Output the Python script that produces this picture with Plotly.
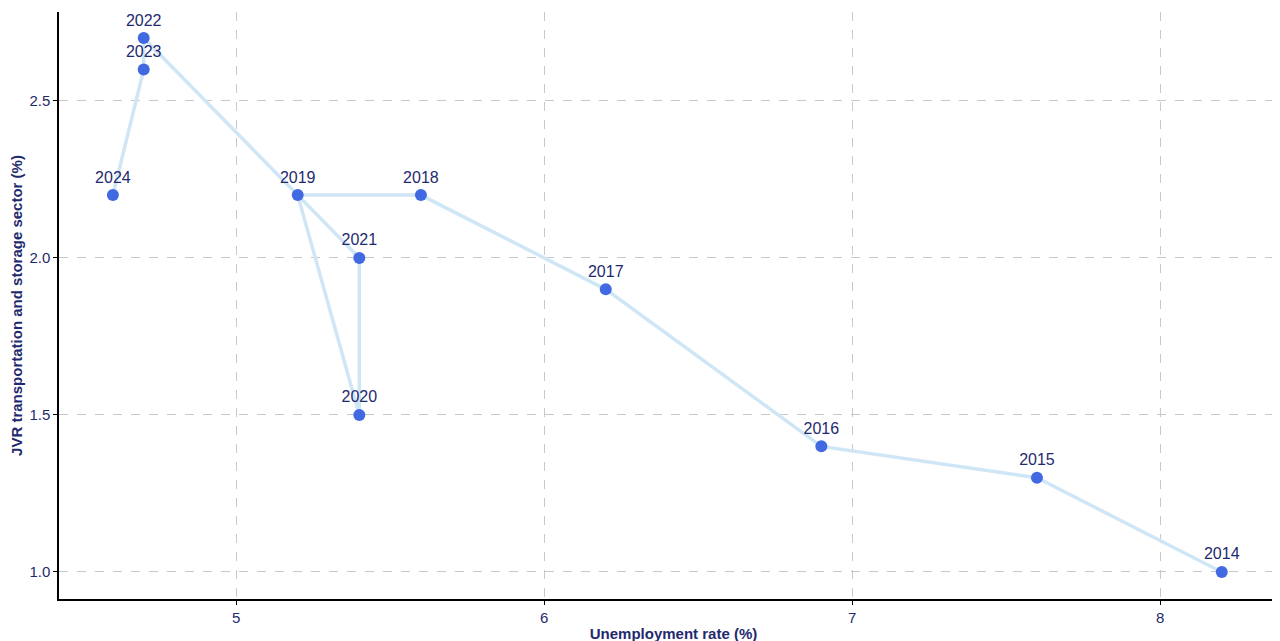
import plotly.graph_objects as go

years = ["2014", "2015", "2016", "2017", "2018", "2019", "2020", "2021", "2022", "2023", "2024"]
unemployment = [8.2, 7.6, 6.9, 6.2, 5.6, 5.2, 5.4, 5.4, 4.7, 4.7, 4.6]
jvr = [1.0, 1.3, 1.4, 1.9, 2.2, 2.2, 1.5, 2.0, 2.7, 2.6, 2.2]

navy = "#1f2a6e"
fam = "Liberation Sans, Arial"
fig = go.Figure()
fig.add_trace(go.Scatter(x=unemployment, y=jvr, mode="lines",
                         line=dict(color="#cfe6f6", width=3.5),
                         hoverinfo="skip", showlegend=False))
fig.add_trace(go.Scatter(x=unemployment, y=jvr, mode="markers+text",
                         text=years, textposition="top center",
                         textfont=dict(color=navy, size=16, family=fam),
                         marker=dict(color="#4169e1", size=12),
                         showlegend=False))

axis_common = dict(showgrid=True, gridcolor="#c8c8c8", griddash="dash", gridwidth=1.2,
                   zeroline=False, showline=True, linecolor="black", linewidth=1.5,
                   ticks="outside", ticklen=4, tickcolor="black",
                   tickfont=dict(color=navy, size=15, family=fam))

fig.update_layout(
    width=1280, height=641,
    margin=dict(l=51, r=0, t=4, b=50, autoexpand=False),
    paper_bgcolor="white", plot_bgcolor="white",
    font=dict(family=fam, color=navy),
    xaxis=dict(range=[4.425, 8.415], tickvals=[5, 6, 7, 8], ticktext=["5", "6", "7", "8"],
               title=dict(text="<b>Unemployment rate (%)</b>", font=dict(size=15, color=navy), standoff=4),
               automargin=False, **axis_common),
    yaxis=dict(range=[0.914, 2.783], tickvals=[1.0, 1.5, 2.0, 2.5], ticktext=["1.0", "1.5", "2.0", "2.5"],
               title=dict(text="<b>JVR transportation and storage sector (%)</b>", font=dict(size=15, color=navy), standoff=6),
               automargin=False, **axis_common),
)
fig.write_html("out.html")
